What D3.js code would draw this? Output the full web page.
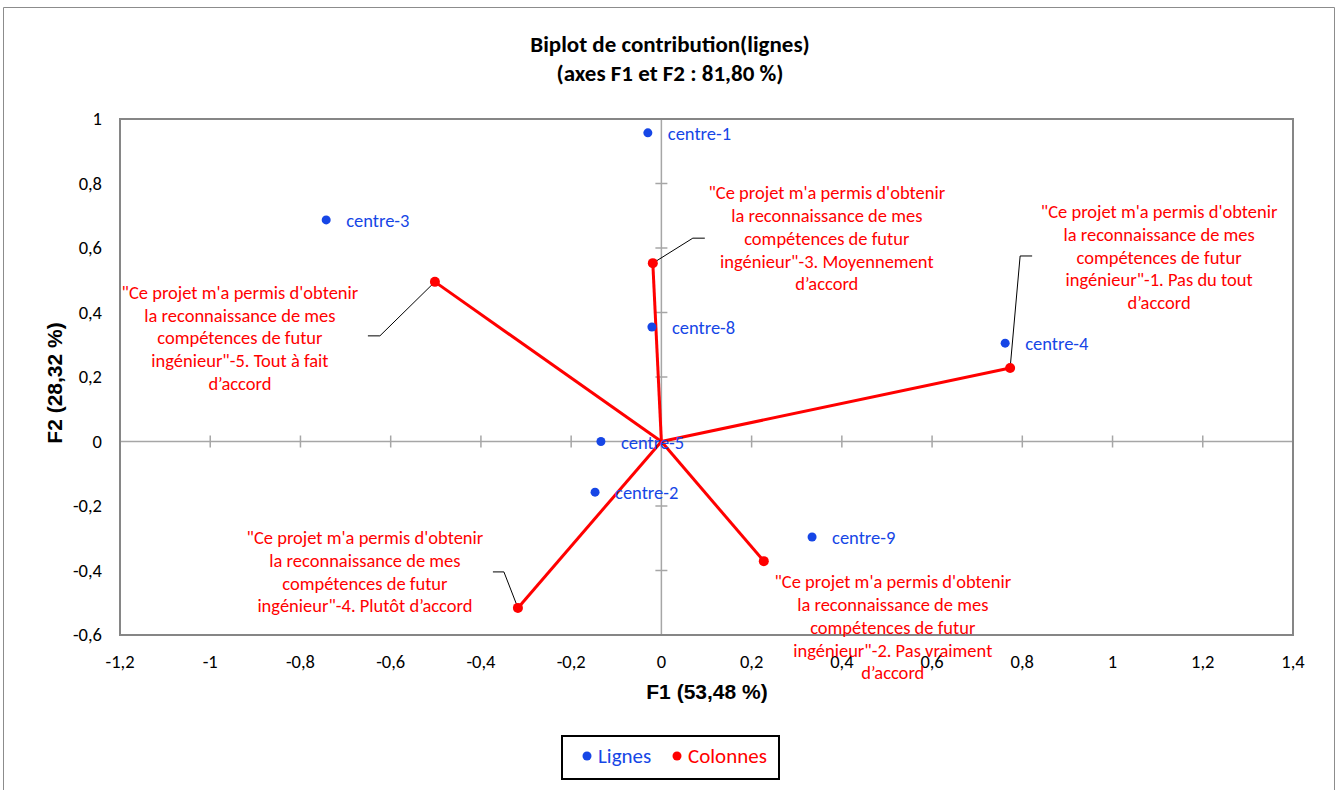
<!DOCTYPE html>
<html>
<head>
<meta charset="utf-8">
<script src="https://cdn.jsdelivr.net/npm/d3@7"></script>
<style>
	body { margin: 0; background: #fff; }
	svg { display: block; }
	.tick-label { font-family: Carlito, Calibri, Lato, sans-serif; font-size: 18.5px; fill: #000; }
	.pt-label { font-family: Carlito, Calibri, Lato, sans-serif; font-size: 18.5px; }
</style>
</head>
<body>
<div id="chart"></div>
<script>
// data ////////////////////////////////////////////////////////////////
var rowNames = ['centre-1', 'centre-3', 'centre-8', 'centre-4', 'centre-5', 'centre-2', 'centre-9'];
var rowF1 = [-0.030, -0.743, -0.021, 0.762, -0.134, -0.147, 0.334];
var rowF2 = [0.957, 0.687, 0.355, 0.305, 0.000, -0.157, -0.296];

var colPrefix = '"Ce projet m\'a permis d\'obtenir la reconnaissance de mes compétences de futur ingénieur"';
var colNames = ['-3. Moyennement d’accord', '-1. Pas du tout d’accord', '-5. Tout à fait d’accord',
	'-4. Plutôt d’accord', '-2. Pas vraiment d’accord'];
var colF1 = [-0.019, 0.773, -0.502, -0.318, 0.227];
var colF2 = [0.553, 0.228, 0.495, -0.516, -0.371];

var xTicks = [-1.2, -1, -0.8, -0.6, -0.4, -0.2, 0, 0.2, 0.4, 0.6, 0.8, 1, 1.2, 1.4];
var yTicks = [-0.6, -0.4, -0.2, 0, 0.2, 0.4, 0.6, 0.8, 1];

// layout (pixel offsets of the column labels, their wrapping and leader lines)
var colLines = [
	['"Ce projet m\'a permis d\'obtenir', 'la reconnaissance de mes', 'compétences de futur', 'ingénieur"-3. Moyennement', 'd’accord'],
	['"Ce projet m\'a permis d\'obtenir', 'la reconnaissance de mes', 'compétences de futur', 'ingénieur"-1. Pas du tout', 'd’accord'],
	['"Ce projet m\'a permis d\'obtenir', 'la reconnaissance de mes', 'compétences de futur', 'ingénieur"-5. Tout à fait', 'd’accord'],
	['"Ce projet m\'a permis d\'obtenir', 'la reconnaissance de mes', 'compétences de futur', 'ingénieur"-4. Plutôt d’accord'],
	['"Ce projet m\'a permis d\'obtenir', 'la reconnaissance de mes', 'compétences de futur', 'ingénieur"-2. Pas vraiment', 'd’accord']
];
var colLabelOff = [[174, -70], [149, -156], [-195, 11], [-153, -70], [129, 21]];
var colLeader = [[40, -25, 52], [10, -112, 22], [-55, 54, -67], [-14, -36, -25], null];

var width = 1341, height = 790;
var plot = {left: 120, top: 119, right: 1293, bottom: 635};
var blue = '#1646e6', red = '#ff0000';
var bodyFont = 'Carlito, Calibri, Lato, sans-serif';

var svg = d3.select('#chart').append('svg')
	.attr('width', width)
	.attr('height', height);

// outer chart border
svg.append('path')
	.attr('d', 'M3.5,' + height + 'V7.5H1334.5V' + height)
	.attr('fill', 'none')
	.attr('stroke', '#8c8c8c')
	.attr('stroke-width', 1);

var x = d3.scaleLinear().domain([-1.2, 1.4]).range([plot.left, plot.right]);
var y = d3.scaleLinear().domain([-0.6, 1]).range([plot.bottom, plot.top]);

// title
var title = svg.append('text')
	.attr('x', 670)
	.attr('text-anchor', 'middle')
	.style('font-family', bodyFont)
	.style('font-size', '23px')
	.style('font-weight', 'bold');
title.append('tspan').attr('x', 670).attr('y', 52).text('Biplot de contribution(lignes)');
title.append('tspan').attr('x', 670).attr('y', 81).text('(axes F1 et F2 : 81,80 %)');

// zero axes with cross ticks
var g = svg.append('g');
g.append('line')
	.attr('x1', plot.left).attr('x2', plot.right)
	.attr('y1', y(0)).attr('y2', y(0))
	.attr('stroke', '#a6a6a6').attr('stroke-width', 1.5);
g.append('line')
	.attr('x1', x(0)).attr('x2', x(0))
	.attr('y1', plot.top).attr('y2', plot.bottom)
	.attr('stroke', '#a6a6a6').attr('stroke-width', 1.5);

g.selectAll('.xtick')
	.data(xTicks.filter(function(d) { return d > -1.2 && d < 1.4; }))
	.enter().append('line')
	.attr('class', 'xtick')
	.attr('x1', function(d) { return x(d); })
	.attr('x2', function(d) { return x(d); })
	.attr('y1', y(0) - 6).attr('y2', y(0) + 6)
	.attr('stroke', '#a6a6a6').attr('stroke-width', 1.5);
g.selectAll('.ytick')
	.data(yTicks.filter(function(d) { return d > -0.6 && d < 1; }))
	.enter().append('line')
	.attr('class', 'ytick')
	.attr('y1', function(d) { return y(d); })
	.attr('y2', function(d) { return y(d); })
	.attr('x1', x(0) - 6).attr('x2', x(0) + 6)
	.attr('stroke', '#a6a6a6').attr('stroke-width', 1.5);

// frame
svg.append('rect')
	.attr('x', plot.left).attr('y', plot.top)
	.attr('width', plot.right - plot.left)
	.attr('height', plot.bottom - plot.top)
	.attr('fill', 'none')
	.attr('stroke', '#868686').attr('stroke-width', 2);

// tick labels
var fmt = function(d) { return String(+d.toFixed(1)).replace('.', ','); };
svg.selectAll('.xlab')
	.data(xTicks)
	.enter().append('text')
	.attr('class', 'tick-label')
	.attr('x', function(d) { return x(d); })
	.attr('y', 668)
	.attr('text-anchor', 'middle')
	.text(fmt);
svg.selectAll('.ylab')
	.data(yTicks)
	.enter().append('text')
	.attr('class', 'tick-label')
	.attr('x', 102)
	.attr('y', function(d) { return y(d) + 6; })
	.attr('text-anchor', 'end')
	.text(fmt);

// axis titles
svg.append('text')
	.attr('x', 707).attr('y', 699)
	.attr('text-anchor', 'middle')
	.style('font-family', '"Liberation Sans", Arial, sans-serif')
	.style('font-size', '21px').style('font-weight', 'bold')
	.text('F1 (53,48 %)');
svg.append('text')
	.attr('transform', 'translate(62,383) rotate(-90)')
	.attr('text-anchor', 'middle')
	.style('font-family', '"Liberation Sans", Arial, sans-serif')
	.style('font-size', '21px').style('font-weight', 'bold')
	.text('F2 (28,32 %)');

// column vectors
var cols = colF1.map(function(d, i) {
	return {name: colPrefix + colNames[i], f1: d, f2: colF2[i], lines: colLines[i], off: colLabelOff[i], leader: colLeader[i]};
});
var rows = rowF1.map(function(d, i) { return {name: rowNames[i], f1: d, f2: rowF2[i]}; });

svg.selectAll('.vec')
	.data(cols)
	.enter().append('line')
	.attr('class', 'vec')
	.attr('x1', x(0)).attr('y1', y(0))
	.attr('x2', function(d) { return x(d.f1); })
	.attr('y2', function(d) { return y(d.f2); })
	.attr('stroke', red).attr('stroke-width', 3);

// leader lines
svg.selectAll('.leader')
	.data(cols.filter(function(d) { return d.leader; }))
	.enter().append('path')
	.attr('class', 'leader')
	.attr('fill', 'none').attr('stroke', '#000').attr('stroke-width', 1)
	.attr('d', function(d) {
		var px = x(d.f1), py = y(d.f2), l = d.leader;
		return 'M' + [px, py] + 'L' + [px + l[0], py + l[1]] + 'L' + [px + l[2], py + l[1]];
	});

svg.selectAll('.colpt')
	.data(cols)
	.enter().append('circle')
	.attr('class', 'colpt')
	.attr('cx', function(d) { return x(d.f1); })
	.attr('cy', function(d) { return y(d.f2); })
	.attr('r', 5)
	.attr('fill', red);

var colLab = svg.selectAll('.collab')
	.data(cols)
	.enter().append('text')
	.attr('class', 'pt-label collab')
	.attr('text-anchor', 'middle')
	.attr('fill', red);
colLab.each(function(d) {
	var t = d3.select(this), cx = x(d.f1) + d.off[0], cy = y(d.f2) + d.off[1];
	d.lines.forEach(function(s, i) {
		t.append('tspan').attr('x', cx).attr('y', cy + 6 + i * 22.8).text(s);
	});
});

// row points
svg.selectAll('.rowpt')
	.data(rows)
	.enter().append('circle')
	.attr('class', 'rowpt')
	.attr('cx', function(d) { return x(d.f1); })
	.attr('cy', function(d) { return y(d.f2); })
	.attr('r', 4.5)
	.attr('fill', blue);
svg.selectAll('.rowlab')
	.data(rows)
	.enter().append('text')
	.attr('class', 'pt-label rowlab')
	.attr('x', function(d) { return x(d.f1) + 20; })
	.attr('y', function(d) { return y(d.f2) + 7; })
	.attr('fill', blue)
	.text(function(d) { return d.name; });

// legend
var leg = svg.append('g');
leg.append('rect')
	.attr('x', 562).attr('y', 736)
	.attr('width', 217).attr('height', 43)
	.attr('fill', '#fff').attr('stroke', '#000').attr('stroke-width', 2);
var legItems = [{name: 'Lignes', color: blue, x: 587}, {name: 'Colonnes', color: red, x: 677}];
leg.selectAll('circle')
	.data(legItems)
	.enter().append('circle')
	.attr('cx', function(d) { return d.x; })
	.attr('cy', 756)
	.attr('r', 4.5)
	.attr('fill', function(d) { return d.color; });
leg.selectAll('text')
	.data(legItems)
	.enter().append('text')
	.attr('x', function(d) { return d.x + 11; })
	.attr('y', 763)
	.style('font-family', bodyFont)
	.style('font-size', '21px')
	.attr('fill', function(d) { return d.color; })
	.text(function(d) { return d.name; });
</script>
</body>
</html>
